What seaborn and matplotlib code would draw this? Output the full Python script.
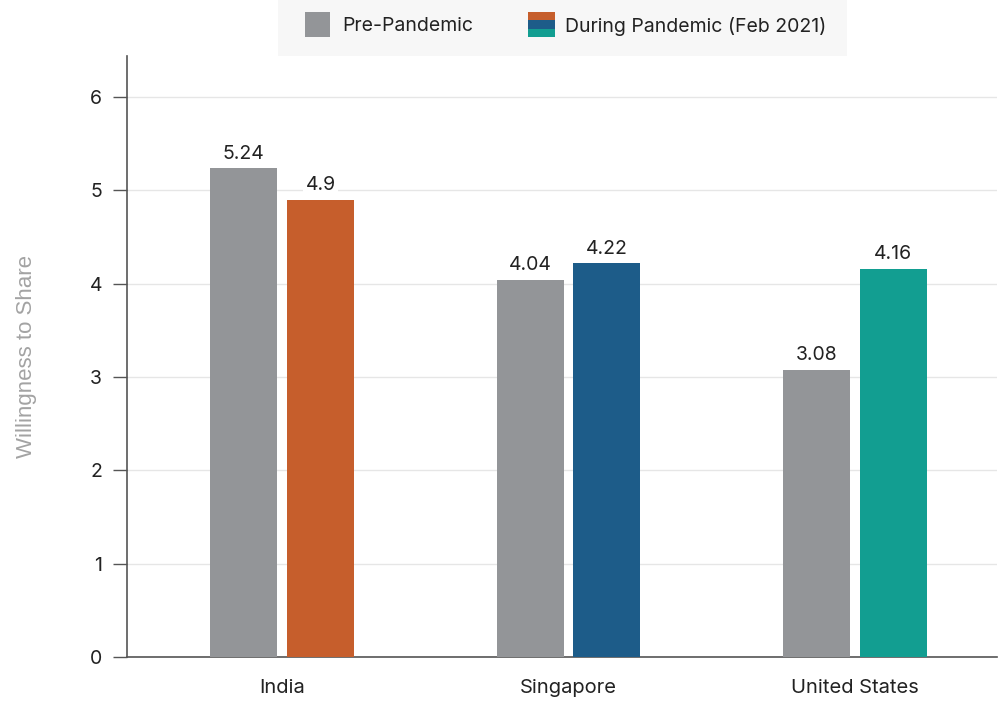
import matplotlib
matplotlib.use("Agg")
import matplotlib.pyplot as plt
import seaborn as sns
import pandas as pd
from matplotlib.patches import Rectangle

countries = ["India", "Singapore", "United States"]
pre_pandemic = [5.24, 4.04, 3.08]
during_pandemic = [4.9, 4.22, 4.16]
series_names = ["Pre-Pandemic", "During Pandemic (Feb 2021)"]
pre_color = "#939598"
during_colors = ["#c65e2c", "#1d5c89", "#129e91"]
y_ticks = [0, 1, 2, 3, 4, 5, 6]

df = pd.DataFrame({
    "country": countries * 2,
    "series": [series_names[0]] * 3 + [series_names[1]] * 3,
    "value": pre_pandemic + during_pandemic,
})

sns.set_theme(style="white")
plt.rcParams["font.family"] = ["Inter", "DejaVu Sans"]

fig = plt.figure(figsize=(10, 7.02), dpi=100)
ax = fig.add_axes([0.127, 0.0641, 0.870, 0.856])

sns.barplot(data=df, x="country", y="value", hue="series", order=countries,
            hue_order=series_names, palette=[pre_color, during_colors[0]],
            width=0.535, gap=0.125, ax=ax, legend=False, errorbar=None,
            saturation=1, zorder=3)

# recolor During Pandemic bars per country
cont_pre, cont_dur = ax.containers[0], ax.containers[1]
for i, p in enumerate(cont_dur):
    p.set_facecolor(during_colors[i])
for p in cont_pre:
    p.set_facecolor(pre_color)
for cont in ax.containers:
    for p in cont:
        p.set_edgecolor("none")

for cont, vals in zip([cont_pre, cont_dur], [pre_pandemic, during_pandemic]):
    ax.bar_label(cont, labels=[f"{v:g}" for v in vals], padding=4, fontsize=14,
                 color="#222222",
                 bbox=dict(facecolor="white", edgecolor="none", pad=1.5), zorder=4)

ax.set_ylim(0, 6.44)
ax.set_xlim(-0.542, 2.497)
ax.set_yticks(y_ticks)
ax.set_yticklabels([str(t) for t in y_ticks], fontsize=14, color="#222222")
ax.tick_params(axis="y", length=10, width=1, color="#555555", pad=8, left=True)
ax.tick_params(axis="x", length=0, pad=16, labelsize=14.5, labelcolor="#222222")
ax.yaxis.grid(True, color="#e6e6e6", linewidth=1, zorder=0)
ax.set_axisbelow(True)
ax.set_xlabel("")
ax.set_ylabel("Willingness to Share", fontsize=16, color="#a3a3a3",
              family=["Liberation Sans", "DejaVu Sans"], labelpad=38)
for s in ["top", "right"]:
    ax.spines[s].set_visible(False)
for s in ["left", "bottom"]:
    ax.spines[s].set_color("#555555")
    ax.spines[s].set_linewidth(1.2)

# Legend (custom, drawn in figure pixel coordinates)
W, H = 1000, 702
def fx(x): return x / W
def fy(y): return 1 - y / H

fig.patches.append(Rectangle((fx(278), fy(56)), fx(847) - fx(278), fy(0) - fy(56),
                             transform=fig.transFigure, facecolor="#f7f7f7",
                             edgecolor="none", zorder=0))
fig.patches.append(Rectangle((fx(305), fy(37)), 25 / W, 25 / H,
                             transform=fig.transFigure, facecolor=pre_color,
                             edgecolor="none", zorder=1))
for k, c in enumerate(during_colors):
    y0 = 12 + k * 25 / 3
    fig.patches.append(Rectangle((fx(528), fy(y0 + 25 / 3)), 27 / W, (25 / 3) / H,
                                 transform=fig.transFigure, facecolor=c,
                                 edgecolor="none", zorder=1))
fig.text(fx(342), fy(26), series_names[0], fontsize=14, color="#222222",
         va="center", ha="left")
fig.text(fx(565), fy(26), series_names[1], fontsize=14, color="#222222",
         va="center", ha="left")

fig.savefig("out.png", dpi=100, facecolor="white")
